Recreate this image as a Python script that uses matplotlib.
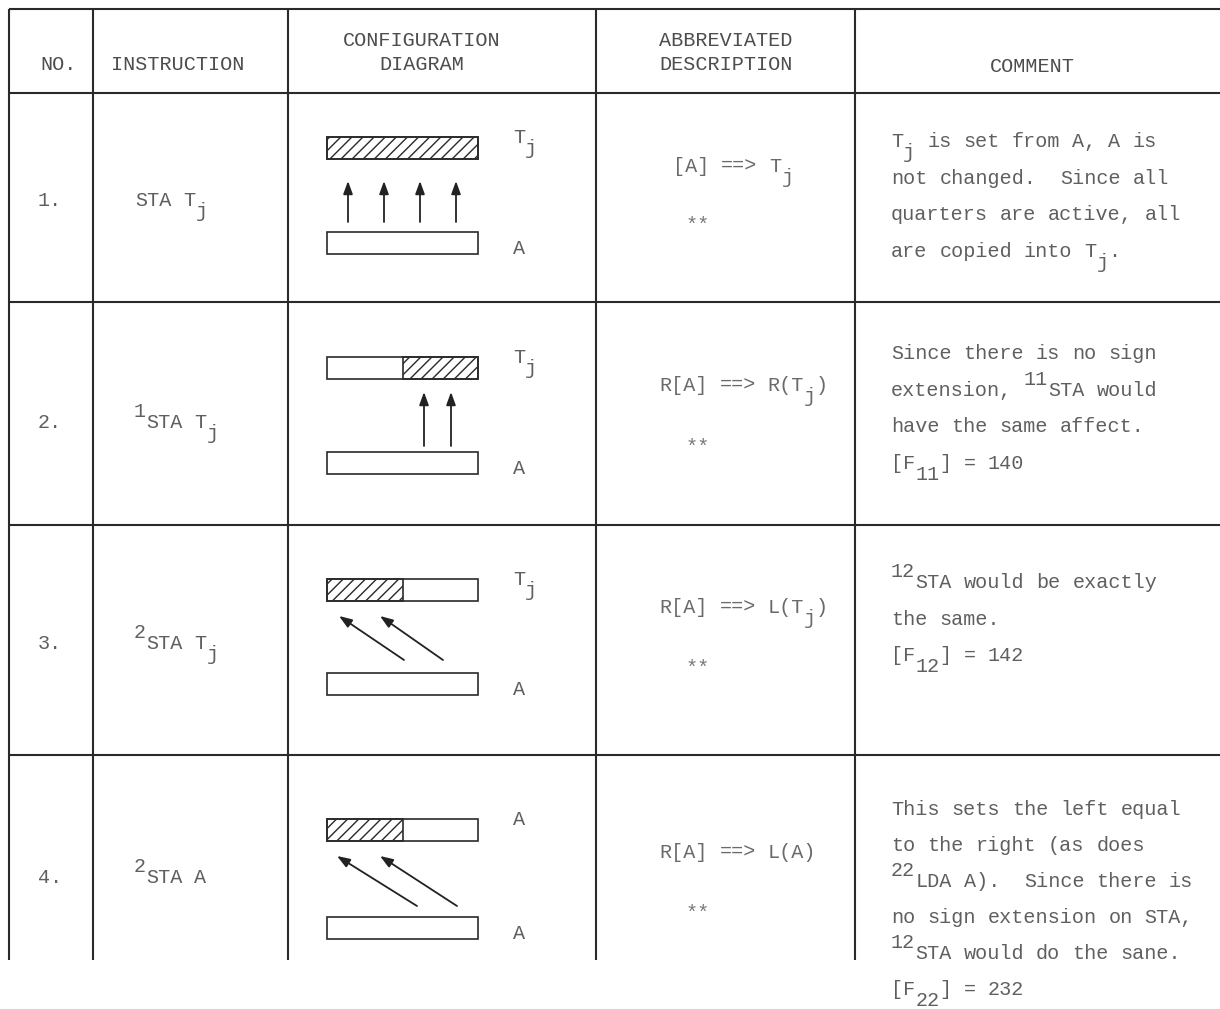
import re
import matplotlib.pyplot as plt
from matplotlib.patches import Rectangle

# ---- table content -------------------------------------------------------
headers = ["NO.", "INSTRUCTION", "CONFIGURATION\nDIAGRAM", "ABBREVIATED\nDESCRIPTION", "COMMENT"]
row_numbers = ["1.", "2.", "3.", "4."]
instructions = ["STA T{_j}", "{^1}STA T{_j}", "{^2}STA T{_j}", "{^2}STA A"]
descriptions = ["[A] ==> T{_j}", "R[A] ==> R(T{_j})", "R[A] ==> L(T{_j})", "R[A] ==> L(A)"]
flags = ["**", "**", "**", "**"]
dest_labels = ["T{_j}", "T{_j}", "T{_j}", "A"]
src_labels = ["A", "A", "A", "A"]
written_part = ["all", "right", "left", "left"]
comments = [
    ["T{_j} is set from A, A is",
     "not changed.  Since all",
     "quarters are active, all",
     "are copied into T{_j}."],
    ["Since there is no sign",
     "extension, {^11}STA would",
     "have the same affect.",
     "[F{_11}] = 140"],
    ["{^12}STA would be exactly",
     "the same.",
     "[F{_12}] = 142"],
    ["This sets the left equal",
     "to the right (as does",
     "{^22}LDA A).  Since there is",
     "no sign extension on STA,",
     "{^12}STA would do the sane.",
     "[F{_22}] = 232"],
]

# ---- page layout (pixels, y downwards) ------------------------------------
COL_X = [9, 93, 288, 596, 855]
RULE_Y = [9, 93, 302, 525, 755]
TABLE_BOTTOM = 960
TEXT_BASE = [206, 428, 649, 883]
DESC_X = [673, 659, 659, 659]
DESC_BASE = [172, 391, 613, 858]
FLAG_BASE = [231, 453, 674, 919]
COMMENT_BASE = [147, 359, 588, 815]
LINE_STEP = [36.6, 36.6, 36.6, 36.0]
DEST_TOP = [137, 357, 579, 819]
SRC_TOP = [232, 452, 673, 917]
REG_X0, REG_X1, REG_H = 327, 478, 22
ARROWS = [
    [(348, 222, 348, 181), (384, 222, 384, 181), (420, 222, 420, 181), (456, 222, 456, 181)],
    [(424, 446, 424, 392), (451, 446, 451, 392)],
    [(404, 660, 339, 616), (443, 660, 380, 616)],
    [(417, 906, 337, 856), (457, 906, 380, 856)],
]

FONT = "Liberation Mono"
FS = 14.5
DPI = 100
CW = 0.6 * FS * DPI / 72
SHIFT = 11
INK = "#5f5f5f"
HEAD_INK = "#4d4d4d"
RULE = "#2a2a2a"

plt.rcParams["hatch.linewidth"] = 1.0

fig = plt.figure(figsize=(12.2, 10.09), dpi=DPI)
ax = fig.add_axes([0, 0, 1, 1])
ax.set_xlim(0, 1220)
ax.set_ylim(1009, 0)
ax.axis("off")

TOKEN = re.compile(r"\{([\^_])([^}]*)\}")


def segments(s):
    out = []
    i = 0
    for m in TOKEN.finditer(s):
        if m.start() > i:
            out.append((s[i:m.start()], 0))
        out.append((m.group(2), 1 if m.group(1) == "^" else -1))
        i = m.end()
    if i < len(s):
        out.append((s[i:], 0))
    return out


def put(x, y, s, color=INK):
    # typewriter style: fixed pitch, half-line shifts for super/subscripts
    col = 0
    for text, shift in segments(s):
        for m in re.finditer(r"\S+", text):
            ax.text(x + (col + m.start()) * CW, y - shift * SHIFT, m.group(),
                    ha="left", va="baseline", family=FONT, fontsize=FS, color=color)
        col += len(text)


# rules
for y in RULE_Y:
    ax.plot([COL_X[0], 1220], [y, y], color=RULE, lw=1.5, solid_capstyle="butt")
for x in COL_X:
    ax.plot([x, x], [RULE_Y[0], TABLE_BOTTOM], color=RULE, lw=1.5, solid_capstyle="butt")

# header
put(40, 70, headers[0], HEAD_INK)
put(111, 70, headers[1], HEAD_INK)
h2 = headers[2].split("\n")
put(343, 46, h2[0], HEAD_INK)
put(379, 70, h2[1], HEAD_INK)
h3 = headers[3].split("\n")
put(659, 46, h3[0], HEAD_INK)
put(659, 70, h3[1], HEAD_INK)
put(990, 72, headers[4], HEAD_INK)

mid = (REG_X0 + REG_X1) / 2
for i in range(len(row_numbers)):
    put(38, TEXT_BASE[i], row_numbers[i])
    put(134 if instructions[i].startswith("{") else 135, TEXT_BASE[i], instructions[i])

    # destination register with the written part hatched
    ax.add_patch(Rectangle((REG_X0, DEST_TOP[i]), REG_X1 - REG_X0, REG_H,
                           facecolor="white", edgecolor=RULE, lw=1.2))
    if written_part[i] == "all":
        hx0, hx1 = REG_X0, REG_X1
    elif written_part[i] == "right":
        hx0, hx1 = mid, REG_X1
    else:
        hx0, hx1 = REG_X0, mid
    ax.add_patch(Rectangle((hx0, DEST_TOP[i]), hx1 - hx0, REG_H,
                           fill=False, hatch="///", edgecolor=RULE, lw=1.2))
    # source register
    ax.add_patch(Rectangle((REG_X0, SRC_TOP[i]), REG_X1 - REG_X0, REG_H,
                           facecolor="white", edgecolor=RULE, lw=1.2))
    for x0, y0, x1, y1 in ARROWS[i]:
        ax.annotate("", xy=(x1, y1), xytext=(x0, y0),
                    arrowprops=dict(arrowstyle="-|>,head_length=0.55,head_width=0.2",
                                    color="#222222", lw=1.3, shrinkA=0, shrinkB=0,
                                    mutation_scale=14))
    put(513, DEST_TOP[i] + 6, dest_labels[i])
    put(513, SRC_TOP[i] + 22, src_labels[i])

    put(DESC_X[i], DESC_BASE[i], descriptions[i], "#6a6a6a")
    put(685, FLAG_BASE[i], flags[i], "#7a7a7a")

    for k, line in enumerate(comments[i]):
        put(891, COMMENT_BASE[i] + k * LINE_STEP[i], line)

fig.savefig("out.png", dpi=DPI, facecolor="white")
